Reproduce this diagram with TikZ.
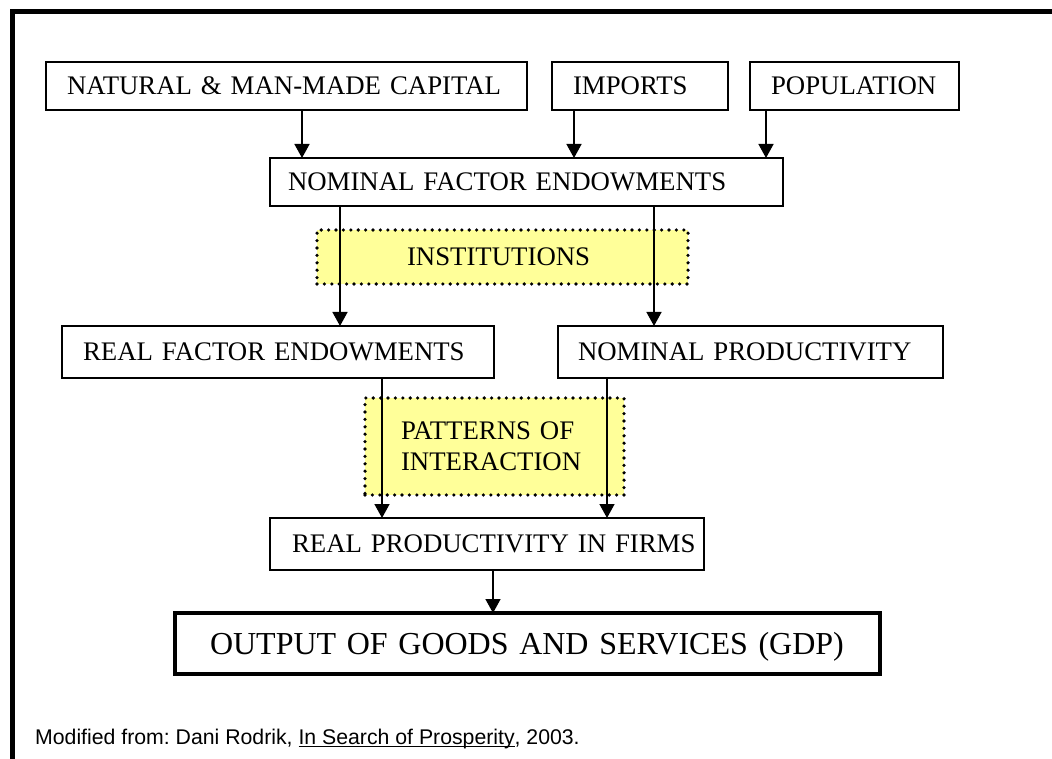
\documentclass[tikz,border=0pt]{standalone}
\usepackage{fontspec}
\setmainfont{Liberation Serif}
\newfontfamily\footfont{Liberation Sans}
\usetikzlibrary{arrows.meta}
\definecolor{paleyellow}{RGB}{255,255,153}
\newcommand\ulword[1]{\setbox0\hbox{#1}\rlap{\rule[-3pt]{\wd0}{1.4pt}}\box0}
\frenchspacing
\begin{document}
\begin{tikzpicture}[x=1pt,y=-1pt,
  boxfont/.style={font=\fontsize{26.8}{30.5}\selectfont},
  plainbox/.style={draw=black, line width=1.5pt, anchor=north west, inner ysep=0pt,
    outer sep=0pt, align=left, text height=17.7pt, text depth=0pt, boxfont},
  yelbox/.style={draw=black, fill=paleyellow, line width=3.6pt, line cap=round,
    dash pattern=on 0pt off 7.4pt, anchor=north west, inner ysep=0pt,
    outer sep=0pt, align=left, boxfont},
  arr/.style={-{Triangle[width=15pt,length=14pt]}, line width=1.5pt},
  frame/.style={line width=5pt, line join=miter}
]
\useasboundingbox (0,0) rectangle (1052,759);
\draw[frame] (12.5,759) -- (12.5,11.5) -- (1052,11.5);

% top row
\node[plainbox, inner xsep=21pt, text width=439pt, minimum height=48pt] (cap) at (46,62) {\mbox{NATURAL \& MAN-MADE CAPITAL}};
\node[plainbox, inner xsep=21pt, text width=134pt, minimum height=48pt] (imp) at (552,62) {\mbox{IMPORTS}};
\node[plainbox, inner xsep=21pt, text width=167pt, minimum height=48pt] (pop) at (750,62) {\mbox{POPULATION}};

\node[plainbox, inner xsep=18pt, text width=477pt, minimum height=48pt] (nfe) at (270,158) {\mbox{NOMINAL FACTOR ENDOWMENTS}};

\node[yelbox, inner xsep=90pt, text width=191pt, minimum height=54pt, text height=17.7pt, text depth=0pt] (inst) at (317,230) {\mbox{INSTITUTIONS}};

\node[plainbox, inner xsep=21pt, text width=390pt, minimum height=52pt] (rfe) at (62,326) {\mbox{REAL FACTOR ENDOWMENTS}};
\node[plainbox, inner xsep=20pt, text width=345pt, minimum height=52pt] (np) at (558,326) {\mbox{NOMINAL PRODUCTIVITY}};

\node[yelbox, inner xsep=36pt, text width=187pt, minimum height=97pt] (pat) at (365,398) {\mbox{PATTERNS OF}\\\mbox{INTERACTION}};

\node[plainbox, inner xsep=22pt, text width=390pt, minimum height=52pt] (rpf) at (270,518) {\mbox{REAL PRODUCTIVITY IN FIRMS}};

\node[plainbox, line width=4pt, inner xsep=35pt, text width=635pt, minimum height=61pt,
  font=\fontsize{32}{38}\selectfont, text height=21.2pt] (gdp) at (175,613) {\mbox{OUTPUT OF GOODS AND SERVICES (GDP)}};

\node[anchor=base west, inner sep=0pt, font=\footfont\fontsize{21.25}{24}\selectfont] (src) at (35,744)
  {Modified from: Dani Rodrik, \ulword{In Search of Prosperity}, 2003.};

% x positions of connectors
\coordinate (xa) at (302,0);
\coordinate (xb) at (574,0);
\coordinate (xc) at (766,0);
\coordinate (xd) at (340,0);
\coordinate (xe) at (654,0);
\coordinate (xf) at (382,0);
\coordinate (xg) at (607,0);
\coordinate (xh) at (493,0);

\draw[arr] (cap.south -| xa) -- (nfe.north -| xa);
\draw[arr] (imp.south -| xb) -- (nfe.north -| xb);
\draw[arr] (pop.south -| xc) -- (nfe.north -| xc);
\draw[arr] (nfe.south -| xd) -- (rfe.north -| xd);
\draw[arr] (nfe.south -| xe) -- (np.north -| xe);
\draw[arr] (rfe.south -| xf) -- (rpf.north -| xf);
\draw[arr] (np.south -| xg) -- (rpf.north -| xg);
\draw[arr] (rpf.south -| xh) -- (gdp.north -| xh);
\end{tikzpicture}
\end{document}
